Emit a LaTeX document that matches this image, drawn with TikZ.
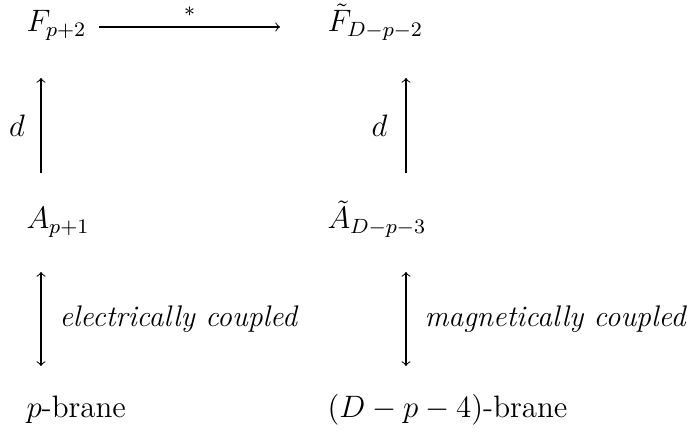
\documentclass[12pt,tikz,border=0pt]{standalone}
\begin{document}
\begin{tikzpicture}[x=0.3875pt,y=-0.3875pt,
  lbl/.style={anchor=base west,inner sep=0pt},
  arr/.style={->,line width=0.4pt},
  darr/.style={<->,line width=0.4pt},
  cpl/.style={right=7pt,inner sep=0pt,font=\fontsize{11.55}{13}\selectfont\itshape}]
\useasboundingbox (0,0) rectangle (687,432);
% nodes
\node[lbl] (F)  at (26,32)  {$F_{p+2}$};
\node[lbl] (Ft) at (327,32) {$\tilde F_{D-p-2}$};
\node[lbl] (A)  at (26,229) {$A_{p+1}$};
\node[lbl] (At) at (327,229) {$\tilde A_{D-p-3}$};
\node[lbl] (pb) at (26,418) {$p$-brane};
\node[lbl] (Db) at (327,418) {$(D-p-4)$-brane};
% connector end points
\coordinate (h1) at (99,27);
\coordinate (h2) at (280,27);
\coordinate (l1) at (41,173);
\coordinate (l2) at (41,78);
\coordinate (r1) at (406,173);
\coordinate (r2) at (406,78);
\coordinate (le1) at (41,272);
\coordinate (le2) at (41,366);
\coordinate (re1) at (406,272);
\coordinate (re2) at (406,366);
% connectors
\draw[arr] (h1) -- node[above=4pt,inner sep=0pt] (star) {$\scriptstyle *$} (h2);
\draw[arr] (l1) -- node[left=6pt,inner sep=0pt] (dl) {$d$} (l2);
\draw[arr] (r1) -- node[left=7pt,inner sep=0pt] (dr) {$d$} (r2);
\draw[darr] (le1) -- node[cpl] (ec) {electrically coupled} (le2);
\draw[darr] (re1) -- node[cpl] (mc) {magnetically coupled} (re2);
\end{tikzpicture}
\end{document}
